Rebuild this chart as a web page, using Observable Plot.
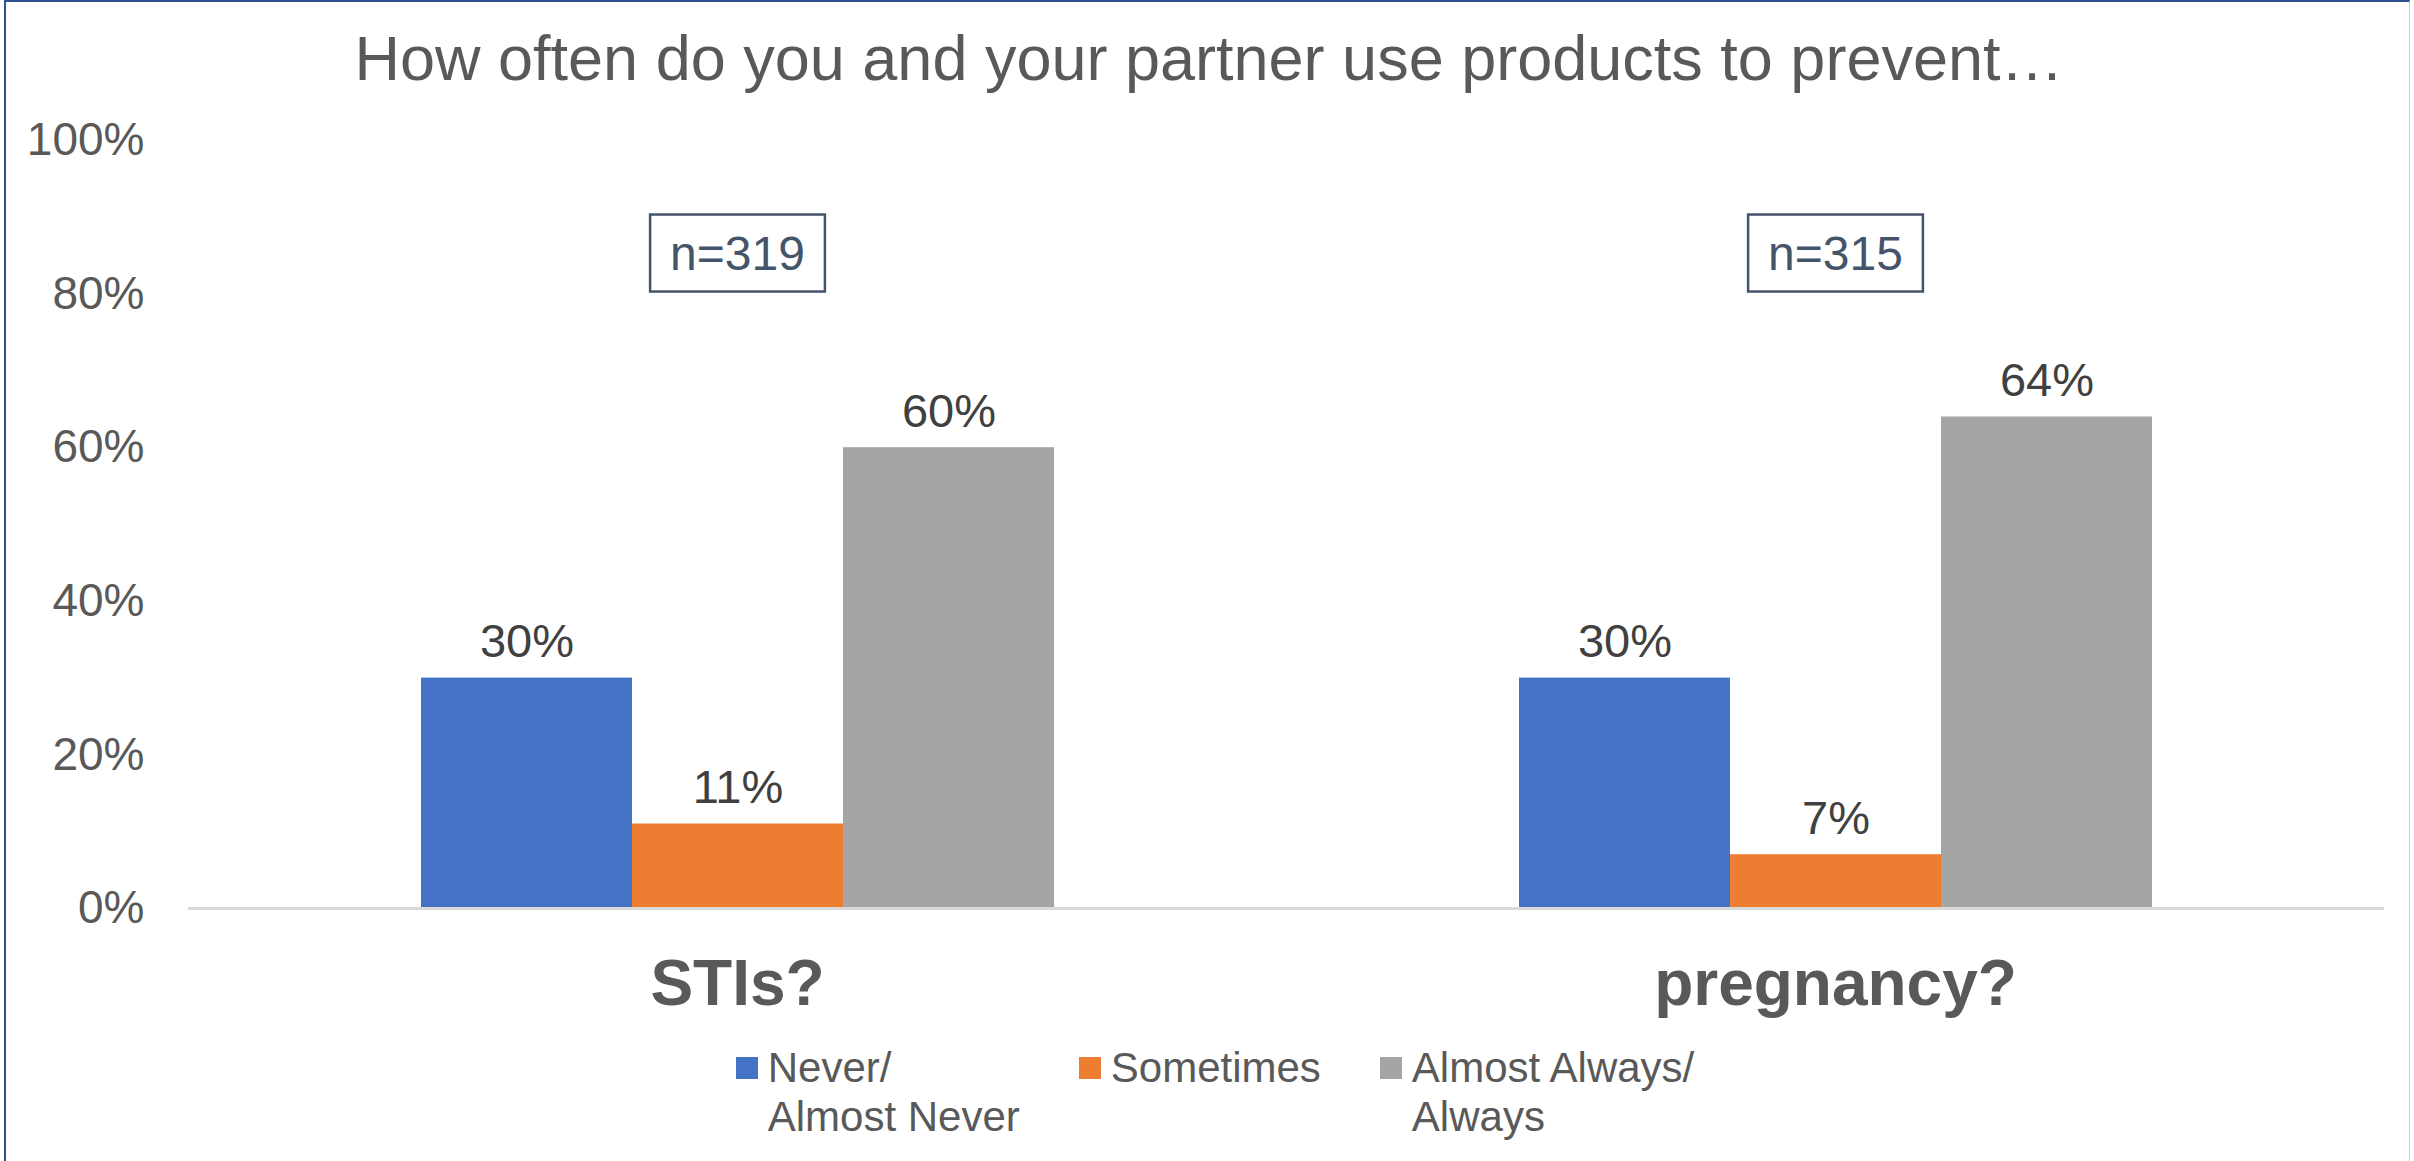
<!DOCTYPE html>
<html>
<head>
<meta charset="utf-8">
<script src="https://cdn.jsdelivr.net/npm/d3@7"></script>
<script src="https://cdn.jsdelivr.net/npm/@observablehq/plot@0.6"></script>
<style>
  html, body { margin: 0; padding: 0; background: #fff; }
  body { width: 2414px; height: 1161px; position: relative; overflow: hidden; font-family: "Liberation Sans", Arial, sans-serif; }
  #frame { position: absolute; left: 4px; top: 0; width: 2406px; height: 1161px; border-left: 2px solid #2F528F; border-top: 2px solid #2F528F; border-right: 1px solid #D0D0D8; box-sizing: border-box; }
  #title { position: absolute; top: 27px; left: 0; width: 2414px; text-align: center; font-size: 63px; line-height: 63px; color: #595959; padding-left: 4px; box-sizing: border-box; }
  #chart { position: absolute; top: 110px; left: 0; }
  #legend { position: absolute; top: 1043px; left: 0; width: 2414px; display: flex; justify-content: center; gap: 59px; padding-left: 16px; box-sizing: border-box; }
  .item { display: flex; align-items: flex-start; }
  .sw { width: 22px; height: 22px; margin-top: 14px; margin-right: 10px; flex: none; }
  .lbl { font-size: 42px; line-height: 49px; color: #595959; white-space: pre; }
</style>
</head>
<body>
<div id="frame"></div>
<div id="title">How often do you and your partner use products to prevent…</div>
<div id="chart"></div>
<div id="legend"></div>
<script>
const categories = ["STIs?", "pregnancy?"];
const seriesKeys = ["Never/Almost Never", "Sometimes", "Almost Always/Always"];
const seriesLabels = ["Never/\nAlmost Never", "Sometimes", "Almost Always/\nAlways"];
const seriesColors = ["#4472C4", "#ED7D31", "#A5A5A5"];
const stiValues = [30, 11, 60];
const pregnancyValues = [30, 7, 64];
const sampleSizes = ["n=319", "n=315"];
const sampleLabelY = [85.2, 85.2];
const yTicks = [0, 20, 40, 60, 80, 100];

const valuesByCategory = [stiValues, pregnancyValues];
const data = [];
categories.forEach((c, ci) => {
  seriesKeys.forEach((s, si) => {
    data.push({category: c, series: s, value: valuesByCategory[ci][si]});
  });
});
const nData = categories.map((c, i) => ({category: c, label: sampleSizes[i], y: sampleLabelY[i]}));

const chart = Plot.plot({
  width: 2414,
  height: 930,
  marginLeft: 187,
  marginRight: 30,
  marginTop: 30,
  marginBottom: 132,
  style: {fontFamily: "'Liberation Sans', Arial, sans-serif", overflow: "visible", background: "transparent"},
  fx: {domain: categories, padding: 0, label: null},
  x: {domain: seriesKeys, paddingInner: 0, paddingOuter: 1.09, axis: null},
  y: {domain: [0, 100], label: null},
  color: {domain: seriesKeys, range: seriesColors},
  marks: [
    Plot.axisY({ticks: yTicks, tickSize: 0, tickPadding: 44, tickFormat: d => d + "%", fontSize: 46, fill: "#595959", label: null}),
    Plot.axisFx({anchor: "bottom", tickSize: 0, tickPadding: 51, fontSize: 64, fontWeight: "bold", fill: "#595959", label: null}),
    Plot.barY(data, {fx: "category", x: "series", y: "value", fill: "series"}),
    Plot.ruleY([0], {stroke: "#D9D9D9", strokeWidth: 3}),
    Plot.text(data, {fx: "category", x: "series", y: "value", text: d => d.value + "%", lineAnchor: "bottom", dy: -21, fontSize: 47, fill: "#404040"}),
    Plot.text(nData, {fx: "category", y: "y", text: "label", fontSize: 48, fill: "#44546A", className: "nbox"})
  ]
});
document.getElementById("chart").appendChild(chart);

// draw boxes around the sample-size labels
d3.select(chart).selectAll("g.nbox text").each(function() {
  const b = this.getBBox();
  const padX = 20, padY = 12;
  d3.select(this.parentNode).insert("rect", () => this)
    .attr("transform", this.getAttribute("transform"))
    .attr("x", b.x - padX).attr("y", b.y - padY)
    .attr("width", b.width + 2 * padX).attr("height", b.height + 2 * padY)
    .attr("fill", "#fff").attr("stroke", "#44546A").attr("stroke-width", 2.5);
});

const legend = d3.select("#legend");
seriesKeys.forEach((k, i) => {
  const it = legend.append("div").attr("class", "item");
  it.append("div").attr("class", "sw").style("background", seriesColors[i]);
  it.append("div").attr("class", "lbl").text(seriesLabels[i]);
});
</script>
</body>
</html>
